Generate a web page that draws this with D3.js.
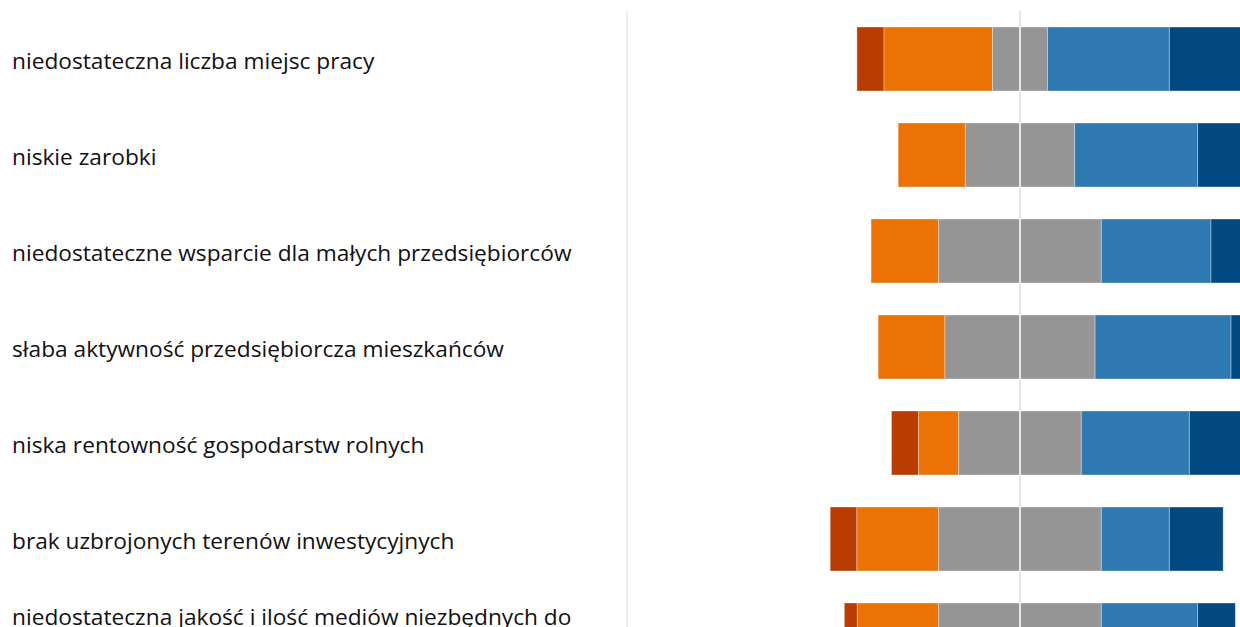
<!DOCTYPE html>
<html>
<head>
<meta charset="utf-8">
<script src="https://cdn.jsdelivr.net/npm/d3@7"></script>
<style>
  body { margin: 0; background: #fff; }
  svg { display: block; }
  text { font-family: "Open Sans", "Noto Sans", sans-serif; }
</style>
</head>
<body>
<svg width="1240" height="627"></svg>
<script>
// Categories (top to bottom)
var categories = [
  "niedostateczna liczba miejsc pracy",
  "niskie zarobki",
  "niedostateczne wsparcie dla małych przedsiębiorców",
  "słaba aktywność przedsiębiorcza mieszkańców",
  "niska rentowność gospodarstw rolnych",
  "brak uzbrojonych terenów inwestycyjnych",
  "niedostateczna jakość i ilość mediów niezbędnych do"
];

// Answer shares in %, from most negative to most positive
var answers = ["zdecydowanie nie", "raczej nie", "trudno powiedzieć", "raczej tak", "zdecydowanie tak"];
var veryNo   = [6.9, 0.0, 0.0, 0.0, 6.9, 6.8, 3.3];
var ratherNo = [27.6, 17.1, 17.2, 17.0, 10.2, 20.8, 20.7];
var neutral  = [14.0, 27.8, 41.4, 38.2, 31.2, 41.4, 41.4];
var ratherYes = [31.0, 31.3, 27.9, 34.6, 27.5, 17.3, 24.5];
var veryYes  = [20.5, 23.8, 13.5, 10.2, 24.2, 13.7, 9.6];

var colors = ["#b93d02", "#ec7206", "#959595", "#2e79b1", "#024881"];

var svg = d3.select("svg");

// build rows: each segment starts left of zero by (veryNo + ratherNo + neutral/2)
var rows = categories.map(function(c, i) {
  var vals = [veryNo[i], ratherNo[i], neutral[i], ratherYes[i], veryYes[i]];
  var start = -(vals[0] + vals[1] + vals[2] / 2);
  var segs = [];
  vals.forEach(function(v, k) {
    segs.push({ cat: c, k: k, x0: start, x1: start + v });
    start += v;
  });
  return { cat: c, segs: segs };
});

var x = d3.scaleLinear()
    .domain([-100, 100])
    .range([627, 1413]);

var y = d3.scaleBand()
    .domain(categories)
    .range([11, 11 + 96 * categories.length])
    .paddingInner(1 / 3)
    .paddingOuter(1 / 6);

// left edge of the plot
svg.append("line")
    .attr("x1", x(-100)).attr("x2", x(-100))
    .attr("y1", 11).attr("y2", 627)
    .attr("stroke", "#ececec")
    .attr("stroke-width", 2);

// bars
svg.append("g")
  .selectAll("g")
  .data(rows)
  .enter()
  .append("g")
  .selectAll("rect")
  .data(function(d) { return d.segs.filter(function(s) { return s.x1 > s.x0; }); })
  .enter()
  .append("rect")
    .attr("x", function(d) { return x(d.x0); })
    .attr("y", function(d) { return y(d.cat); })
    .attr("width", function(d) { return x(d.x1) - x(d.x0); })
    .attr("height", y.bandwidth())
    .attr("fill", function(d) { return colors[d.k]; })
    .attr("stroke", "#ffffff")
    .attr("stroke-opacity", 0.35)
    .attr("stroke-width", 1);

// zero line on top of the bars
svg.append("line")
    .attr("x1", x(0)).attr("x2", x(0))
    .attr("y1", 11).attr("y2", 627)
    .attr("stroke", "#e6e6e6")
    .attr("stroke-width", 2);

// category labels (the last one wraps, only its first line is in view)
svg.append("g")
  .selectAll("text")
  .data(categories)
  .enter()
  .append("text")
    .attr("x", 12)
    .attr("y", function(d, i) {
      var c = y(d) + y.bandwidth() / 2;
      return i === categories.length - 1 ? c - 10 : c + 10;
    })
    .style("font-size", "22.7px")
    .style("fill", "#111")
    .text(function(d) { return d; });
</script>
</body>
</html>
